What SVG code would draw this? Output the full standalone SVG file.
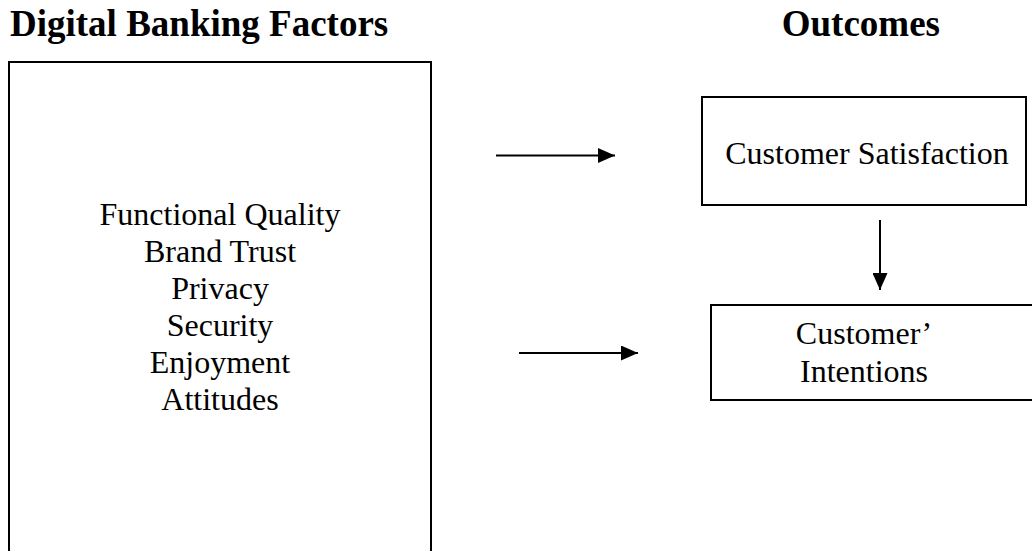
<svg xmlns="http://www.w3.org/2000/svg" width="1032" height="551" viewBox="0 0 1032 551">
  <style>
    .title { font-family: "Liberation Serif", "Times New Roman", serif; font-weight: bold; font-size: 37px; fill: #000; }
    .label { font-family: "Liberation Serif", "Times New Roman", serif; font-size: 32px; fill: #000; text-anchor: middle; }
    .box { fill: #fff; stroke: #000; stroke-width: 2; }
    .edge { stroke: #000; stroke-width: 2; fill: none; }
  </style>
  <defs>
    <marker id="arrow" markerWidth="17" markerHeight="15" refX="17" refY="7.5" orient="auto" markerUnits="userSpaceOnUse">
      <path d="M0,0 L17,7.5 L0,15 Z" fill="#000"/>
    </marker>
  </defs>
  <rect width="1032" height="551" fill="#fff"/>

  <!-- column headings -->
  <text class="title" x="10" y="36">Digital Banking Factors</text>
  <text class="title" x="940" y="36" text-anchor="end">Outcomes</text>

  <g id="factors">
    <rect class="box" x="9" y="62" width="422" height="500"/>
    <text class="label" x="220" y="225">Functional Quality</text>
    <text class="label" x="220" y="262">Brand Trust</text>
    <text class="label" x="220" y="299">Privacy</text>
    <text class="label" x="220" y="336">Security</text>
    <text class="label" x="220" y="373">Enjoyment</text>
    <text class="label" x="220" y="410">Attitudes</text>
  </g>

  <g id="satisfaction">
    <rect class="box" x="702" y="97" width="324" height="108"/>
    <text class="label" x="867" y="164">Customer Satisfaction</text>
  </g>

  <g id="intentions">
    <rect class="box" x="711" y="305" width="330" height="95"/>
    <text class="label" x="864" y="344">Customer’</text>
    <text class="label" x="864" y="382">Intentions</text>
  </g>

  <g id="connectors">
    <line class="edge" x1="496" y1="155.5" x2="615" y2="155.5" marker-end="url(#arrow)"/>
    <line class="edge" x1="519" y1="353" x2="638" y2="353" marker-end="url(#arrow)"/>
    <line class="edge" x1="880" y1="220" x2="880" y2="290" marker-end="url(#arrow)"/>
  </g>
</svg>
